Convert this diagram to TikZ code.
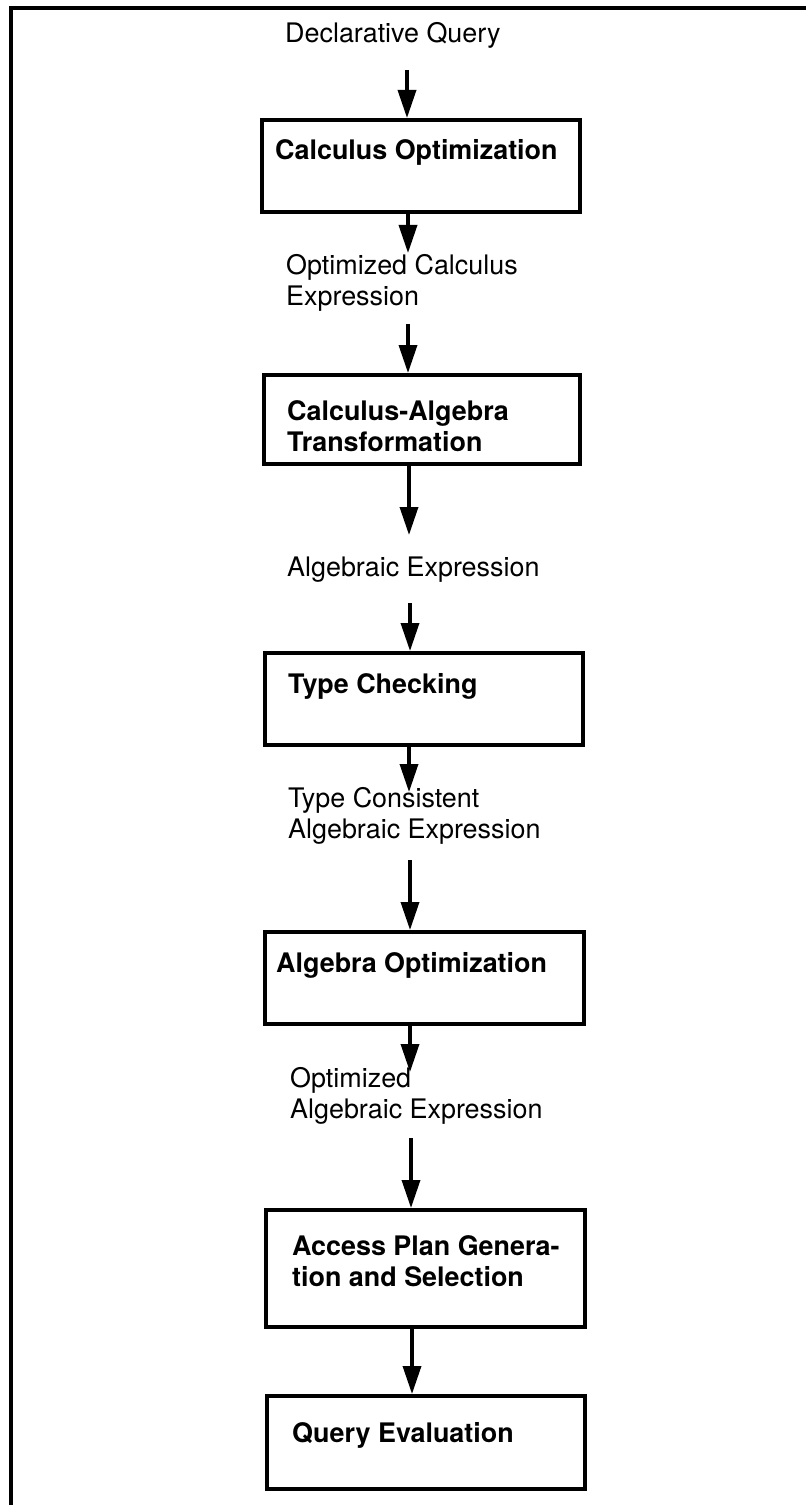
\documentclass[tikz,border=0pt]{standalone}
\usepackage{fontspec}
\setmainfont{TeX Gyre Heros}
\usetikzlibrary{arrows.meta}
% two stacked lines whose reference point is the first baseline
\newcommand\stagelines[2]{\vtop{\hbox{#1}\hbox{#2}}}
\begin{document}
\begin{tikzpicture}[x=1bp,y=-1bp,
  stage/.style={draw, line width=4bp, anchor=north west, inner sep=0pt},
  stagetext/.style={anchor=base west, inner sep=0pt,
    font=\fontsize{27}{32}\selectfont\bfseries},
  datatext/.style={anchor=base west, inner sep=0pt,
    font=\fontsize{27}{32}\selectfont},
  flow/.style={line width=3.5bp, -{Triangle[length=28bp,width=18bp]}},
  frameline/.style={line width=4bp, line cap=rect}]
\useasboundingbox (0,0) rectangle (805,1505);
\fill[white] (0,0) rectangle (805,1505);

% outer frame (top and left edges)
\coordinate (frameBL) at (11,1510);
\coordinate (frameTL) at (11,8);
\coordinate (frameTR) at (810,8);
\draw[frameline] (frameBL) -- (frameTL) -- (frameTR);

% processing stages
\node[stage, minimum width=318bp, minimum height=92bp]  (b1) at (260,118) {};
\node[stage, minimum width=316bp, minimum height=89bp]  (b2) at (262,373) {};
\node[stage, minimum width=318bp, minimum height=92bp]  (b3) at (263,651) {};
\node[stage, minimum width=319bp, minimum height=92bp]  (b4) at (263,930) {};
\node[stage, minimum width=319bp, minimum height=117bp] (b5) at (264,1208) {};
\node[stage, minimum width=318bp, minimum height=93bp]  (b6) at (265,1394) {};

\node[stagetext] (b1t) at (275,160)  {Calculus Optimization};
\node[stagetext] (b2t) at (287,420)  {\stagelines{Calculus-Algebra}{Transformation}};
\node[stagetext] (b3t) at (288,693)  {Type Checking};
\node[stagetext] (b4t) at (276,972)  {Algebra Optimization};
\node[stagetext] (b5t) at (292,1255) {\stagelines{Access Plan Genera-}{tion and Selection}};
\node[stagetext] (b6t) at (292,1442) {Query Evaluation};

% intermediate results
\node[datatext] (d0) at (285,43)   {Declarative Query};
\node[datatext] (d1) at (286,274)  {\stagelines{Optimized Calculus}{Expression}};
\node[datatext] (d2) at (287,576)  {Algebraic Expression};
\node[datatext] (d3) at (288,807)  {\stagelines{Type Consistent}{Algebraic Expression}};
\node[datatext] (d4) at (290,1087) {\stagelines{Optimized}{Algebraic Expression}};

% flow arrows
\coordinate (a1s) at (407,70);
\coordinate (a2e) at (408,253);
\coordinate (a3s) at (408,324);
\coordinate (a4e) at (409,535);
\coordinate (a5s) at (410,603);
\coordinate (a6e) at (409,792);
\coordinate (a7s) at (410,860);
\coordinate (a8e) at (410,1072);
\coordinate (a9s) at (411,1138);
\coordinate (a10) at (412,1300);

\draw[flow] (a1s) -- (a1s |- b1.north);
\draw[flow] (a2e |- b1.south) -- (a2e);
\draw[flow] (a3s) -- (a3s |- b2.north);
\draw[flow] (a4e |- b2.south) -- (a4e);
\draw[flow] (a5s) -- (a5s |- b3.north);
\draw[flow] (a6e |- b3.south) -- (a6e);
\draw[flow] (a7s) -- (a7s |- b4.north);
\draw[flow] (a8e |- b4.south) -- (a8e);
\draw[flow] (a9s) -- (a9s |- b5.north);
\draw[flow] (a10 |- b5.south) -- (a10 |- b6.north);
\end{tikzpicture}
\end{document}
